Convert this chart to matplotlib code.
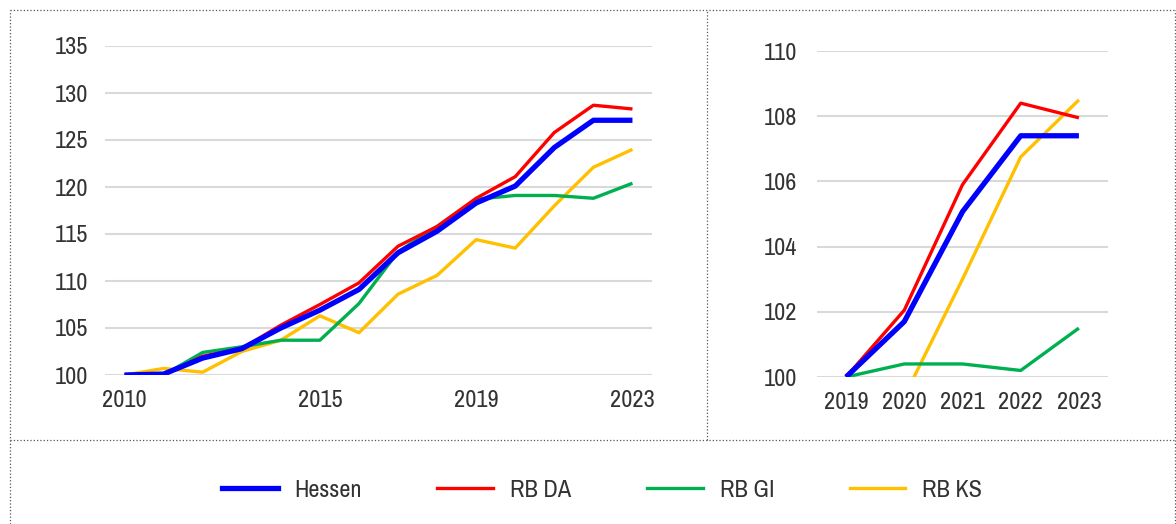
import matplotlib.pyplot as plt
from matplotlib import font_manager
from matplotlib.lines import Line2D

# data (index, base year = 100)
years_long = list(range(2010, 2024))
hessen_long = [100, 100.1, 101.8, 102.8, 105.0, 106.9, 109.1, 113.0, 115.3, 118.3, 120.1, 124.2, 127.1, 127.1]
da_long = [100, 100.0, 102.0, 102.8, 105.3, 107.5, 109.8, 113.7, 115.8, 118.8, 121.1, 125.8, 128.7, 128.3]
gi_long = [100, 100.0, 102.4, 103.0, 103.7, 103.7, 107.6, 113.1, 115.8, 118.7, 119.1, 119.1, 118.8, 120.4]
ks_long = [100, 100.7, 100.3, 102.5, 103.7, 106.3, 104.5, 108.6, 110.6, 114.4, 113.5, 118.0, 122.1, 124.0]

years_short = [2019, 2020, 2021, 2022, 2023]
hessen_short = [100, 101.7, 105.07, 107.4, 107.4]
da_short = [100, 102.05, 105.9, 108.4, 107.95]
gi_short = [100, 100.4, 100.4, 100.2, 101.5]
ks_short = [100, 99.4, 103.0, 106.75, 108.5]

names = ["Hessen", "RB DA", "RB GI", "RB KS"]
colors = ["#0000FF", "#FF0000", "#00B050", "#FFC000"]
widths = [3.8, 2.4, 2.4, 2.4]

# prefer a narrow face if one is around
installed = sorted({f.name for f in font_manager.fontManager.ttflist})
narrow = [n for n in installed if "Narrow" in n or "Condensed" in n]
if narrow:
    fam, fs = narrow[0], 17.5
else:
    fam, fs = "Liberation Sans", 15.5
plt.rcParams["font.family"] = [fam, "DejaVu Sans"]
txt = "#333333"

W, H = 1176, 524
fig = plt.figure(figsize=(W / 100, H / 100), dpi=100)


def make_axes(x0, x1, ytop, ybot):
    return fig.add_axes([x0 / W, 1 - ybot / H, (x1 - x0) / W, (ybot - ytop) / H])


def style(ax, ypad):
    for s in ax.spines.values():
        s.set_visible(False)
    ax.grid(axis="y", color="#d9d9d9", linewidth=1.5)
    ax.set_axisbelow(True)
    ax.tick_params(length=0, labelsize=fs, colors=txt)
    ax.tick_params(axis="y", pad=ypad)
    ax.tick_params(axis="x", pad=11)


# left panel
ax1 = make_axes(105, 652, 46, 375)
series_long = [hessen_long, da_long, gi_long, ks_long]
for vals, c, lw, n in zip(reversed(series_long), reversed(colors), reversed(widths), reversed(names)):
    ax1.plot(years_long, vals, color=c, lw=lw, label=n, solid_capstyle="butt")
ax1.set_xlim(2009.5, 2023.5)
ax1.set_ylim(100, 135)
ax1.set_yticks(range(100, 136, 5))
ax1.set_xticks([2010, 2015, 2019, 2023])
style(ax1, 12)

# right panel
ax2 = make_axes(817, 1108, 51, 377)
series_short = [hessen_short, da_short, gi_short, ks_short]
for vals, c, lw in zip(reversed(series_short), reversed(colors), reversed(widths)):
    ax2.plot(years_short, vals, color=c, lw=lw, solid_capstyle="butt")
ax2.set_xlim(2018.5, 2023.5)
ax2.set_ylim(100, 110)
ax2.set_yticks(range(100, 111, 2))
ax2.set_xticks(years_short)
style(ax2, 14)

# legend
handles = [Line2D([], [], color=c, lw=lw) for c, lw in zip(colors, widths)]
fig.legend(handles, names, loc="center", bbox_to_anchor=(602 / W, 1 - 490 / H), ncol=4,
           frameon=False, fontsize=fs, handlelength=2.3, handletextpad=0.7,
           columnspacing=3.1, labelcolor=txt)

# dotted frame
dot = dict(color="#555555", lw=0.9, ls=":", transform=fig.transFigure)
fig.add_artist(Line2D([10 / W, 1], [1 - 10 / H, 1 - 10 / H], **dot))
fig.add_artist(Line2D([10 / W, 10 / W], [0, 1 - 10 / H], **dot))
fig.add_artist(Line2D([707 / W, 707 / W], [1 - 440 / H, 1 - 10 / H], **dot))
fig.add_artist(Line2D([10 / W, 1], [1 - 440 / H, 1 - 440 / H], **dot))
fig.add_artist(Line2D([1175 / W, 1175 / W], [0, 1 - 10 / H], **dot))

fig.savefig("out.png", dpi=100, facecolor="white")
